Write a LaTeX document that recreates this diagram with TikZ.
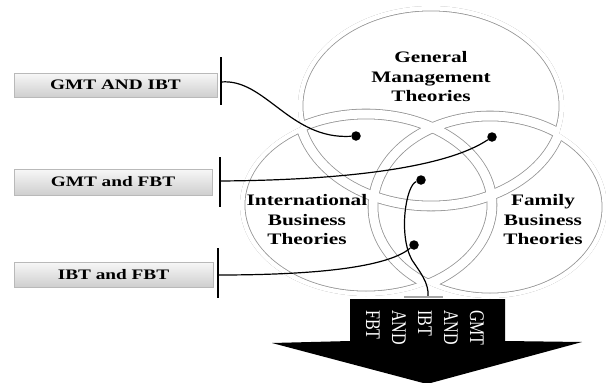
\documentclass[tikz,border=0pt]{standalone}
\usepackage{fontspec}
\usepackage{tikz}
\setmainfont{Liberation Serif}
\newfontfamily\widefont{Liberation Serif}[FakeStretch=1.33]

\begin{document}
\begin{tikzpicture}[x=1pt,y=-1pt,
	tag/.style={draw=gray!55,top color=gray!6,bottom color=gray!38,inner sep=0pt,font=\widefont\bfseries\fontsize{14.5}{16}\selectfont},
	dot/.style={circle,fill=black,inner sep=0pt,minimum size=9.5pt},
	wire/.style={line width=1.2pt},
	bar/.style={line width=1.5pt},
	venn/.style={align=center,font=\widefont\bfseries\fontsize{16}{19.5}\selectfont}]
	\useasboundingbox (0,0) rectangle (606,383);
	% the three sets, drawn as bands
	\begin{scope}
		\clip (431,106) ellipse (133 and 100) (366,205) ellipse (126 and 91) (490,207) ellipse (117 and 91);
		\foreach \c/\w in {gray!85/10.6,white/9}
		{
			\draw[line width=\w pt,\c] (431,106) ellipse (133 and 100);
			\draw[line width=\w pt,\c] (366,205) ellipse (126 and 91);
			\draw[line width=\w pt,\c] (490,207) ellipse (117 and 91);
		}
	\end{scope}
	\node[venn] (gmt) at (431,77) {General\\Management\\Theories};
	\node[venn] (ibt) at (307,220) {International\\Business\\Theories};
	\node[venn] (fbt) at (543,220) {Family\\Business\\Theories};
	% labels on the left
	\node[tag,minimum width=203pt,minimum height=24pt] (gmtibt) at (115.5,85) {GMT AND IBT};
	\node[tag,minimum width=198pt,minimum height=26pt] (gmtfbt) at (113,182) {GMT and FBT};
	\node[tag,minimum width=199pt,minimum height=25pt] (ibtfbt) at (113.5,274.5) {IBT and FBT};
	\coordinate (b1) at (221,82);
	\coordinate (b2) at (220,181);
	\coordinate (b3) at (218,275);
	\draw[bar] (b1) ++(0,-25) -- ++(0,48);
	\draw[bar] (b2) ++(0,-24) -- ++(0,50);
	\draw[bar] (b3) ++(0,-27) -- ++(0,50);
	% points in the overlaps
	\node[dot] (p1) at (356,136) {};
	\node[dot] (p2) at (492,137) {};
	\node[dot] (p3) at (421,180) {};
	\node[dot] (p4) at (414,245) {};
	\coordinate (stem) at (428,296);
	\draw[wire] (b1) .. controls (265,78) and (290,140) .. (p1);
	\draw[wire] (b2) .. controls (360,180) and (450,165) .. (p2);
	\draw[wire] (b3) .. controls (330,275) and (390,265) .. (p4);
	\draw[wire] (p3) .. controls (406,185) and (398,235) .. (412,260) .. controls (420,272) and (429,283) .. (stem);
	\draw[bar,gray!70] (404,297) -- (443,297);
	% the arrow
	\fill (350,299) -- (505,299) -- (505,341) -- (582,342) -- (427,384) -- (272,343) -- (350,341) -- cycle;
	\begin{scope}[shift={(425,310)},xscale=1.3]
		\node[transform shape,rotate=-90,anchor=west,align=left,text=white,inner sep=0pt,font=\fontsize{16}{20}\selectfont] (all) at (0,0) {GMT\\AND\\IBT\\AND\\FBT};
	\end{scope}
\end{tikzpicture}
\end{document}
